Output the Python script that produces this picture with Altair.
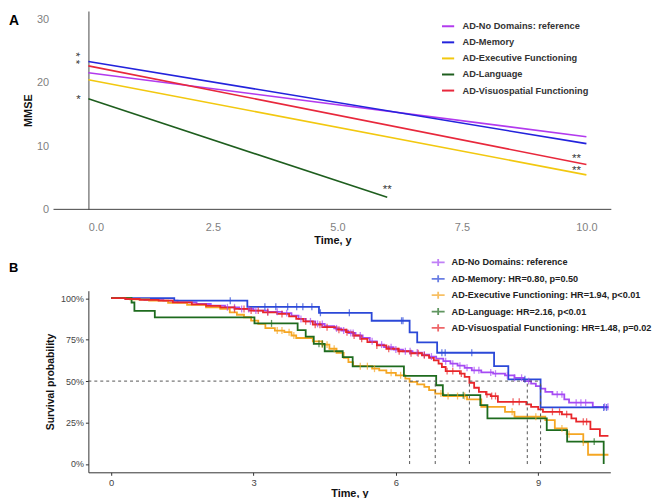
import altair as alt
import pandas as pd

FONT = "Liberation Sans"

# ---------------- Panel A : MMSE trajectories ----------------
a_groups = ["AD-No Domains: reference", "AD-Memory", "AD-Executive Functioning",
            "AD-Language", "AD-Visuospatial Functioning"]
a_colors = ["#B23AEE", "#2323DC", "#F2C80F", "#1E5E1E", "#E8283C"]
a_x0 = [0, 0, 0, 0, 0]
a_x1 = [10, 10, 10, 6, 10]
a_y0 = [21.6, 23.4, 20.5, 17.5, 22.7]
a_y1 = [11.5, 10.4, 5.45, 1.9, 7.1]

star_x = [-0.2, 9.8, 9.8, 6.0]
star_y = [17.7, 8.5, 6.5, 3.5]
star_text = ["*", "**", "**", "**"]
# stacked pair of single stars (Memory / Visuospatial baseline)
pair_x = [-0.2]
pair_y = [23.6]
pair_text = ["* *"]

a_xticks = [0, 2.5, 5, 7.5, 10]
a_yticks = [0, 10, 20, 30]

# ---------------- Panel B : Kaplan-Meier ----------------
b_groups = ["AD-No Domains: reference", "AD-Memory: HR=0.80, p=0.50",
            "AD-Executive Functioning: HR=1.94, p<0.01", "AD-Language: HR=2.16, p<0.01",
            "AD-Visuospatial Functioning: HR=1.48, p=0.02"]
b_colors = ["#A64BF4", "#2B48D8", "#F5A623", "#1E6B1E", "#E8262A"]

nodom_t = [0, 0.3, 0.7, 1.1, 1.4, 1.8, 2.1, 2.4, 2.7, 3.0, 3.3, 3.6, 3.8, 3.95, 4.1, 4.3,
           4.5, 4.7, 4.85, 5.0, 5.15, 5.3, 5.45, 5.6, 5.75, 5.95, 6.15, 6.35, 6.55, 6.7,
           6.85, 7.0, 7.15, 7.3, 7.45, 7.6, 7.8, 8.05, 8.3, 8.5, 8.7, 8.85, 8.95, 9.05,
           9.15, 9.3, 9.55, 9.65, 10.15, 10.48]
nodom_s = [1.0, 0.995, 0.99, 0.985, 0.975, 0.965, 0.955, 0.945, 0.935, 0.925, 0.918, 0.91,
           0.895, 0.875, 0.86, 0.845, 0.832, 0.818, 0.805, 0.79, 0.775, 0.76, 0.74, 0.72,
           0.705, 0.69, 0.68, 0.672, 0.66, 0.648, 0.635, 0.62, 0.605, 0.593, 0.58, 0.565,
           0.552, 0.545, 0.535, 0.52, 0.50, 0.485, 0.47, 0.455, 0.435, 0.42, 0.39, 0.37,
           0.345, 0.345]
nodom_c = [2.45, 2.6, 2.75, 2.9, 3.05, 3.3, 3.5, 3.7, 4.0, 4.2, 4.35, 4.45, 4.75, 4.9, 5.05,
           5.1, 5.25, 5.5, 5.7, 5.9, 6.0, 6.2, 6.3, 6.45, 6.6, 6.75, 7.05, 7.2, 7.35, 7.5,
           7.65, 7.75, 8.0, 8.1, 8.35, 8.5, 8.65, 8.8, 9.4, 9.5, 9.8, 9.9, 10.0, 10.4, 10.47]

mem_t = [0, 1.33, 2.87, 4.38, 5.49, 6.29, 6.45, 6.87, 8.07, 8.37, 9.05, 10.48]
mem_s = [1.0, 0.985, 0.948, 0.912, 0.864, 0.794, 0.734, 0.671, 0.59, 0.511, 0.341, 0.341]
mem_c = [2.51, 3.24, 3.47, 3.72, 3.91, 4.04, 4.23, 4.41, 5.02, 6.12, 6.15, 6.97, 7.04,
         7.6, 8.72, 10.38, 10.44]

exe_t = [0, 0.4, 0.8, 1.2, 1.6, 2.0, 2.3, 2.5, 2.65, 2.8, 2.95, 3.1, 3.25, 3.45, 3.65, 3.8,
         3.9, 4.25, 4.45, 4.6, 4.75, 4.9, 5.0, 5.1, 5.5, 5.65, 5.8, 6.0, 6.2, 6.29, 6.45,
         6.6, 6.7, 6.83, 7.0, 7.5, 7.8, 8.3, 8.5, 9.15, 9.35, 9.6, 9.95, 10.05, 10.48]
exe_s = [1.0, 0.993, 0.985, 0.972, 0.96, 0.945, 0.935, 0.915, 0.9, 0.885, 0.865, 0.845,
         0.82, 0.805, 0.795, 0.775, 0.76, 0.74, 0.72, 0.695, 0.67, 0.64, 0.615, 0.59, 0.575,
         0.565, 0.55, 0.535, 0.515, 0.495, 0.48, 0.465, 0.445, 0.425, 0.41, 0.39, 0.345,
         0.315, 0.285, 0.265, 0.215, 0.18, 0.13, 0.056, 0.056]
exe_c = [3.5, 3.6, 3.75, 3.85, 4.45, 4.55, 4.7, 5.25, 5.4, 5.55, 5.9, 6.1, 6.95, 7.1, 7.3,
         7.45, 8.45, 8.95, 9.5, 9.65, 9.95]

lang_t = [0, 0.43, 0.49, 0.92, 3.02, 3.93, 4.1, 4.27, 4.5, 4.88, 5.09, 6.17, 6.85, 6.99,
          7.78, 7.93, 9.18, 9.61, 10.38]
lang_s = [1.0, 0.974, 0.924, 0.884, 0.848, 0.808, 0.768, 0.725, 0.68, 0.644, 0.589, 0.531,
          0.475, 0.415, 0.355, 0.275, 0.205, 0.135, 0.0]
lang_c = [3.38, 4.38, 4.45, 7.42, 10.18]

vis_t = [0, 0.3, 0.6, 1.0, 1.3, 1.7, 2.0, 2.3, 2.6, 2.9, 3.2, 3.5, 3.75, 3.9, 4.05, 4.25,
         4.45, 4.75, 4.95, 5.1, 5.25, 5.4, 5.6, 5.8, 6.05, 6.3, 6.55, 6.7, 6.8, 6.9, 6.97,
         7.05, 7.35, 7.45, 7.55, 7.65, 7.75, 7.9, 8.0, 8.15, 8.75, 8.85, 9.0, 9.1, 9.5, 9.7,
         9.8, 10.1, 10.3, 10.48]
vis_s = [1.0, 0.995, 0.99, 0.985, 0.975, 0.963, 0.953, 0.945, 0.935, 0.925, 0.915, 0.905,
         0.89, 0.875, 0.86, 0.84, 0.825, 0.81, 0.795, 0.775, 0.755, 0.735, 0.715, 0.695,
         0.68, 0.668, 0.655, 0.64, 0.625, 0.605, 0.585, 0.56, 0.545, 0.525, 0.49, 0.46,
         0.435, 0.42, 0.41, 0.375, 0.36, 0.345, 0.33, 0.315, 0.30, 0.275, 0.255, 0.21, 0.17,
         0.17]
vis_c = [2.6, 2.8, 2.95, 3.1, 3.3, 3.6, 4.1, 4.3, 4.4, 4.55, 4.8, 4.97, 5.12, 5.28, 5.6,
         5.85, 6.07, 6.32, 6.47, 6.6, 7.08, 7.2, 7.38, 7.92, 8.02, 8.1, 8.47, 8.6, 9.3, 9.45,
         9.6, 9.95, 10.02]

b_medians = [8.77, 9.05, 6.29, 6.83, 7.55]
b_xticks = [0, 3, 6, 9]
b_yticks = [0, 0.25, 0.5, 0.75, 1.0]

# ---------------- tables ----------------
rowsA = []
for g, x0, x1, y0, y1 in zip(a_groups, a_x0, a_x1, a_y0, a_y1):
    rowsA.append({"group": g, "x": x0, "y": y0})
    rowsA.append({"group": g, "x": x1, "y": y1})
dfA = pd.DataFrame(rowsA)
dfStars = pd.DataFrame({"x": star_x, "y": star_y, "t": star_text})
dfPair = pd.DataFrame({"x": pair_x, "y": pair_y, "t": pair_text})

curves = [(nodom_t, nodom_s, nodom_c), (mem_t, mem_s, mem_c), (exe_t, exe_s, exe_c),
          (lang_t, lang_s, lang_c), (vis_t, vis_s, vis_c)]
rowsB, rowsC = [], []
for k, (g, (ts, ss, cs)) in enumerate(zip(b_groups, curves)):
    for t, s in zip(ts, ss):
        rowsB.append({"group": g, "gi": k, "t": t, "s": s})
    for c in cs:
        sv = ss[0]
        for t, s in zip(ts, ss):
            if t <= c:
                sv = s
        rowsC.append({"group": g, "gi": k, "t": c, "s": sv})
dfB = pd.DataFrame(rowsB)
dfC = pd.DataFrame(rowsC)
dfMed = pd.DataFrame({"t": b_medians, "lo": [0.0] * 5, "hi": [0.5] * 5})
dfH = pd.DataFrame({"t0": [-0.48], "t1": [max(b_medians)], "s": [0.5]})

# ---------------- Panel A chart ----------------
xA = alt.X("x:Q", scale=alt.Scale(domain=[0, 10.5], nice=False, zero=False),
           axis=alt.Axis(values=a_xticks, format=".1f", domain=False, ticks=False, tickSize=0,
                         grid=False, labelPadding=12, labelColor="#7f7f7f", labelFontSize=11,
                         title="Time, y", titleFontSize=11, titleFontWeight="bold",
                         titleColor="#111", titlePadding=2, titleX=246))
yA = alt.Y("y:Q", scale=alt.Scale(domain=[0, 31.4], nice=False, zero=False),
           axis=alt.Axis(values=a_yticks, domain=True, domainColor="#8c8c8c", domainWidth=1.6,
                         ticks=False, tickSize=0, grid=False, labelPadding=40,
                         labelColor="#7f7f7f", labelFontSize=11, title="MMSE",
                         titleFontSize=11, titleFontWeight="bold", titleColor="#111",
                         titlePadding=3))

linesA = alt.Chart(dfA).mark_line(strokeWidth=1.6).encode(
    x=xA, y=yA,
    color=alt.Color("group:N", sort=a_groups,
                    scale=alt.Scale(domain=a_groups, range=a_colors),
                    legend=alt.Legend(title=None, orient="none", legendX=355, legendY=8,
                                      symbolType="stroke", symbolSize=150, symbolStrokeWidth=2,
                                      labelFontSize=9.3, labelFontWeight="bold",
                                      labelColor="#333", labelFont=FONT, labelOffset=7,
                                      rowPadding=3.2, labelLimit=400)),
)
axisLineA = alt.Chart(pd.DataFrame({"k": [0]})).mark_rule(color="#444", strokeWidth=1).encode(
    x=alt.datum(-0.7), x2=alt.datum(10.5), y=alt.datum(0))
starsA = alt.Chart(dfStars).mark_text(fontSize=11.5, dy=3, color="#333", font=FONT).encode(
    x="x:Q", y="y:Q", text="t:N")
pairA = alt.Chart(dfPair).mark_text(fontSize=11.5, angle=90, dx=-2, dy=3, color="#333",
                                    font=FONT).encode(x="x:Q", y="y:Q", text="t:N")

chartA = alt.layer(axisLineA, linesA, starsA, pairA).properties(
    width=527, height=200,
    title=alt.TitleParams("A", anchor="start", frame="group", dx=-80, dy=17, offset=0,
                          fontSize=14, fontWeight="bold", font=FONT, color="#000"))

# ---------------- Panel B chart ----------------
xB = alt.X("t:Q", scale=alt.Scale(domain=[-0.48, 10.52], nice=False, zero=False),
           axis=alt.Axis(values=b_xticks, format="d", domain=True, domainColor="#333",
                         ticks=True, tickSize=3, tickColor="#333", grid=False, labelPadding=2,
                         labelColor="#444", labelFontSize=9.5, title="Time, y",
                         titleFontSize=11, titleFontWeight="bold", titleColor="#111",
                         titlePadding=1))
yB = alt.Y("s:Q", scale=alt.Scale(domain=[-0.05, 1.045], nice=False, zero=False),
           axis=alt.Axis(values=b_yticks, format=".0%", domain=True, domainColor="#333",
                         ticks=True, tickSize=3, tickColor="#333", grid=False, labelPadding=2,
                         labelColor="#444", labelFontSize=9, title="Survival probability",
                         titleFontSize=10.5, titleFontWeight="bold", titleColor="#111",
                         titlePadding=5))
colorB = alt.Color("group:N", sort=b_groups, scale=alt.Scale(domain=b_groups, range=b_colors),
                   legend=alt.Legend(title=None, orient="none", legendX=345, legendY=-36,
                                     symbolType="M-1,0H1M0,-0.55V0.55", symbolSize=170,
                                     symbolStrokeWidth=1.8, labelFontSize=9.2,
                                     labelFontWeight="bold", labelColor="#222", labelFont=FONT,
                                     labelOffset=6, rowPadding=1.5, labelLimit=400))

hline = alt.Chart(dfH).mark_rule(strokeDash=[3, 3], color="#555", strokeWidth=1).encode(
    x=alt.X("t0:Q", scale=alt.Scale(domain=[-0.48, 10.52], nice=False, zero=False)),
    x2="t1:Q", y=alt.Y("s:Q"))
vlines = alt.Chart(dfMed).mark_rule(strokeDash=[3, 3], color="#555", strokeWidth=1).encode(
    x="t:Q", y="lo:Q", y2="hi:Q")
linesB = alt.Chart(dfB).mark_line(interpolate="step-after", strokeWidth=1.8).encode(
    x=xB, y=yB, color=colorB, detail="gi:N")
ticksB = alt.Chart(dfC).mark_tick(orient="vertical", size=7, thickness=1.3).encode(
    x="t:Q", y="s:Q", color=alt.Color("group:N", sort=b_groups))

chartB = alt.layer(linesB, hline, vlines, ticksB).properties(
    width=526, height=183,
    title=alt.TitleParams("B", anchor="start", frame="group", dx=-80, dy=20, offset=0,
                          fontSize=13, fontWeight="bold", font=FONT, color="#000"))

chart = alt.vconcat(chartA, chartB, spacing=82, bounds="flush").resolve_scale(
    color="independent").properties(padding=0).configure(font=FONT).configure_view(
    stroke="transparent")

chart.save("out.html", embed_options={"renderer": "svg", "actions": False})
